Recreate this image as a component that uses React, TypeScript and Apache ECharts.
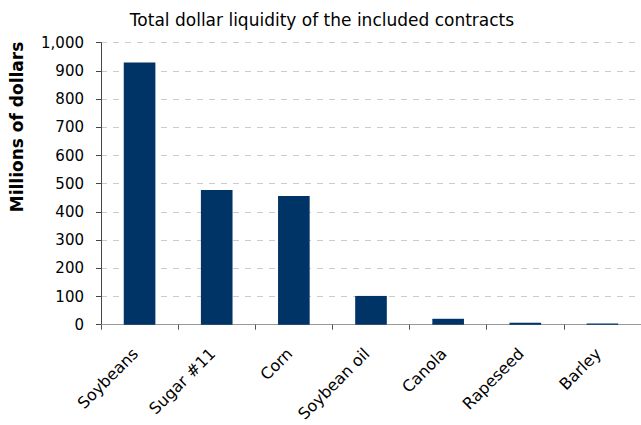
import React, { useEffect, useRef } from "react";
import * as echarts from "echarts";

const categories = ["Soybeans", "Sugar #11", "Corn", "Soybean oil", "Canola", "Rapeseed", "Barley"];
const values = [930, 478, 456, 102, 21, 7, 4];
const titleText = "Total dollar liquidity of the included contracts";
const yAxisName = "Millions of dollars";

const FONT = "DejaVu Sans, Liberation Sans, Arial";

export default function App() {
  const ref = useRef<HTMLDivElement>(null);
  useEffect(() => {
    document.body.style.margin = "0";
    const chart = echarts.init(ref.current!, null, { renderer: "svg" });
    chart.setOption({
      animation: false,
      backgroundColor: "#ffffff",
      title: {
        text: titleText,
        left: 322,
        top: 11,
        padding: 0,
        textAlign: "center",
        textStyle: { fontFamily: FONT, fontSize: 17, fontWeight: "normal", color: "#000" },
      },
      graphic: [
        {
          type: "text",
          x: 17,
          y: 127,
          rotation: Math.PI / 2,
          style: {
            text: yAxisName,
            fontFamily: FONT,
            fontSize: 17,
            fontWeight: "bold",
            fill: "#000",
            align: "center",
            verticalAlign: "middle",
          },
        },
      ],
      grid: {
        left: 101,
        top: 42.7,
        right: 0,
        bottom: 100.3,
        containLabel: false,
        outerBoundsMode: "none",
      },
      xAxis: {
        type: "category",
        data: categories,
        boundaryGap: true,
        axisLine: { lineStyle: { color: "#999", width: 1 } },
        axisTick: { show: true, alignWithLabel: false, length: 5, lineStyle: { color: "#555" } },
        axisLabel: {
          rotate: 45,
          interval: 0,
          margin: 22,
          padding: [0, 6, 0, 0],
          fontFamily: FONT,
          fontSize: 16,
          color: "#000",
        },
      },
      yAxis: {
        type: "value",
        min: 0,
        max: 1000,
        interval: 100,
        axisLine: { show: true, lineStyle: { color: "#444", width: 1 } },
        axisTick: { show: true, length: 5, lineStyle: { color: "#444" } },
        axisLabel: {
          fontFamily: FONT,
          fontSize: 15,
          color: "#000",
          margin: 17,
          formatter: (v: number) => v.toLocaleString("en-US"),
        },
        splitLine: { show: true, lineStyle: { color: "#cccccc", type: [6, 6], width: 1 } },
      },
      series: [
        {
          type: "bar",
          data: values,
          barWidth: "41%",
          itemStyle: { color: "#003366" },
        },
      ],
    });
    return () => chart.dispose();
  }, []);
  return <div ref={ref} style={{ width: 641, height: 425 }} />;
}
